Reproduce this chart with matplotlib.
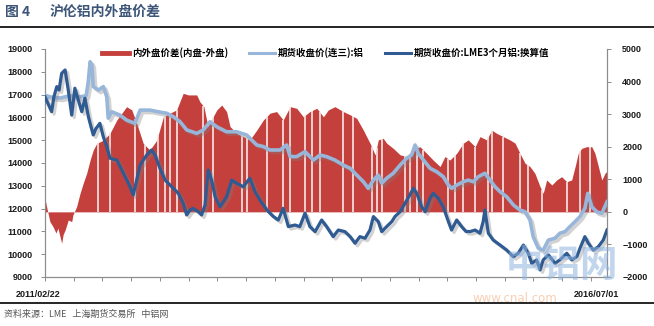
import matplotlib
matplotlib.use('Agg')
import matplotlib.pyplot as plt
import matplotlib.patheffects as pe
from matplotlib.lines import Line2D
import numpy as np
import pandas as pd

plt.rcParams['font.family'] = ['Noto Sans CJK SC', 'DejaVu Sans']

START = pd.Timestamp('2011-02-22')
END = pd.Timestamp('2016-07-01')

# spread (SHFE - LME), yuan/t, right axis; x = days after START
spread_days = [0, 7, 17, 28, 38, 45, 58, 63, 70, 81, 93, 97, 110, 122, 133, 145,
               157, 168, 180, 203, 226, 250, 284, 302, 319, 342, 365, 389, 412,
               435, 458, 481, 499, 528, 539, 553, 567, 598, 615, 632, 644, 667,
               690, 713, 737, 760, 783, 806, 829, 853, 876, 899, 922, 946, 969,
               986, 1009, 1038, 1062, 1085, 1108, 1131, 1149, 1160, 1177, 1189,
               1212, 1236, 1259, 1282, 1305, 1328, 1351, 1375, 1392, 1409, 1433,
               1456, 1473, 1497, 1514, 1537, 1555, 1572, 1595, 1618, 1636, 1653,
               1671, 1688, 1705, 1723, 1734, 1746, 1764, 1781, 1798, 1816, 1833,
               1845, 1856, 1868, 1885, 1903, 1914, 1926, 1938, 1949, 1956]
spread_vals = [400, 100, -300, -455, -650, -500, -965, -700, -555, -250, -300,
               -100, 160, 570, 880, 1185, 1590, 1900, 2100, 2200, 2410, 2820,
               3230, 3130, 2720, 2100, 1900, 2200, 2920, 3030, 3130, 3640, 3590,
               3590, 3380, 3230, 2620, 3130, 3280, 3080, 2620, 2410, 2310, 2210,
               2510, 2820, 3030, 3080, 2820, 3230, 3180, 2920, 3080, 3180, 2920,
               3130, 3230, 3080, 2980, 2870, 2510, 2110, 1750, 2210, 2260, 2110,
               1950, 1750, 1700, 1900, 2000, 1800, 1590, 1390, 1700, 1590, 1800,
               2110, 2210, 2000, 2310, 2210, 2510, 2410, 2310, 2210, 2110, 1800,
               1490, 1390, 1185, 775, 570, 980, 825, 980, 1080, 925, 980, 1390,
               1800, 1950, 2000, 2000, 1800, 1390, 980, 1185, 1250]
# days with no spread value (one market closed)
gap_days = [186, 226, 313, 348, 394, 418, 435, 458, 550, 585, 685, 702, 772,
            829, 853, 905, 928, 957, 1037, 1072, 1137, 1154, 1172, 1253, 1270,
            1294, 1317, 1404, 1427, 1456, 1497, 1543, 1555, 1595, 1653, 1682,
            1729, 1816, 1862, 1897]

# SHFE 3rd-month aluminium close
shfe_days = [0, 17, 52, 87, 122, 143, 150, 157, 163, 168, 186, 203, 215, 220,
             232, 261, 284, 313, 331, 365, 393, 424, 447, 470, 493, 505, 528,
             551, 574, 598, 632, 667, 702, 719, 737, 760, 783, 818, 841, 853,
             876, 905, 934, 957, 980, 1009, 1038, 1062, 1085, 1108, 1125, 1143,
             1160, 1172, 1189, 1212, 1236, 1259, 1276, 1288, 1299, 1317, 1340,
             1363, 1386, 1404, 1415, 1433, 1456, 1473, 1491, 1508, 1531, 1549,
             1566, 1584, 1607, 1630, 1653, 1671, 1688, 1699, 1717, 1734, 1752,
             1775, 1792, 1810, 1827, 1845, 1862, 1879, 1889, 1903, 1920, 1938,
             1956]
shfe_vals = [16980, 16900, 16850, 16950, 16900, 16950, 17500, 18440, 18300,
             17350, 17200, 17350, 16900, 15970, 16250, 16100, 15880, 15740,
             16320, 16320, 16250, 16180, 16030, 15810, 15450, 15400, 15300,
             15450, 15810, 15590, 15370, 15370, 15230, 15010, 14790, 14720,
             14570, 14570, 14790, 14280, 14280, 14500, 14130, 14350, 14280,
             14130, 13910, 13770, 13470, 13180, 12890, 13250, 13470, 13110,
             13330, 13550, 13910, 14210, 14350, 14790, 14420, 14130, 13770,
             13620, 13400, 13030, 12890, 13030, 13180, 13250, 13180, 13400,
             13550, 13250, 12960, 12740, 12520, 12160, 11940, 11860, 11500,
             10770, 10260, 10180, 10620, 10700, 10920, 10990, 11210, 11430,
             11650, 12010, 12670, 12080, 11860, 11790, 12300]

# LME 3-month aluminium, converted to yuan
lme_days = [0, 7, 23, 31, 41, 49, 58, 70, 81, 93, 104, 116, 128, 139, 151, 157,
            168, 177, 191, 203, 215, 226, 250, 273, 296, 307, 319, 331, 354,
            371, 383, 400, 418, 441, 464, 481, 493, 505, 515, 534, 545, 557,
            568, 580, 592, 609, 632, 650, 667, 690, 713, 731, 748, 772, 795,
            812, 829, 847, 870, 887, 905, 922, 940, 963, 980, 1003, 1021, 1044,
            1062, 1079, 1096, 1114, 1131, 1143, 1160, 1172, 1189, 1207, 1218,
            1236, 1253, 1270, 1282, 1294, 1311, 1323, 1340, 1351, 1369, 1386,
            1404, 1415, 1433, 1450, 1465, 1479, 1497, 1514, 1525, 1531, 1543,
            1560, 1584, 1607, 1630, 1647, 1665, 1682, 1694, 1711, 1723, 1734,
            1752, 1775, 1792, 1816, 1833, 1851, 1862, 1879, 1891, 1908, 1926,
            1943, 1956]
lme_vals = [16900, 16700, 16250, 16900, 17350, 17200, 17930, 18080, 17200,
            16100, 17280, 16760, 16250, 16840, 16030, 15740, 15230, 15500,
            15740, 15150, 14720, 14210, 14130, 13550, 12960, 12600, 13250,
            13910, 14350, 14570, 14350, 13770, 13250, 12960, 12670, 12230,
            11720, 11940, 12010, 11860, 11720, 12160, 13690, 13250, 12520,
            12080, 12520, 13250, 13110, 12960, 13330, 12740, 12380, 11940,
            11650, 11500, 12010, 11210, 11280, 11210, 11800, 11210, 10990,
            11500, 11210, 10770, 11060, 10990, 10770, 10480, 10770, 10700,
            11060, 11650, 11430, 10990, 11210, 11430, 11650, 11860, 12230,
            12600, 12890, 12670, 12080, 11860, 12450, 12670, 12450, 12080,
            11430, 11060, 11500, 11210, 11000, 10990, 11060, 10920, 11430,
            11940, 10920, 10620, 10400, 10180, 9890, 10040, 10400, 10040, 9600,
            9750, 9310, 9750, 9970, 9600, 9750, 10040, 9750, 9890, 10260,
            10770, 10480, 10180, 10330, 10620, 11060]

RED = '#c4403c'
LIGHT = '#98b6da'
DARK = '#2f5b92'


def to_dates(days):
    return START + pd.to_timedelta(days, unit='D')


fig = plt.figure(figsize=(6.54, 3.26), dpi=100)
ax_sp = fig.add_axes([45 / 654, 1 - 277 / 326, 562 / 654, 228 / 326])
ax_px = ax_sp.twinx()

# spread area on the back axis, prices on the twin in front
ax_sp.fill_between(to_dates(spread_days), 0, spread_vals, color=RED, lw=0,
                   zorder=2)
gap_tops = np.interp(gap_days, spread_days, spread_vals)
ax_sp.vlines(to_dates(gap_days), 0, gap_tops, color='#f6e8e8', lw=1.2,
             zorder=3)

shadow = [pe.SimpleLineShadow(offset=(1.8, -1.8), shadow_color='#808080',
                              alpha=0.35), pe.Normal()]
ax_px.plot(to_dates(shfe_days), shfe_vals, color=LIGHT, lw=2.6,
           solid_joinstyle='round', path_effects=shadow, zorder=3)
ax_px.plot(to_dates(lme_days), lme_vals, color=DARK, lw=2.3,
           solid_joinstyle='round', path_effects=shadow, zorder=4)

ax_sp.set_ylim(-2000, 5000)
ax_sp.set_yticks(np.arange(-2000, 5001, 1000))
ax_px.set_ylim(9000, 19000)
ax_px.set_yticks(np.arange(9000, 19001, 1000))
ax_sp.set_xlim(START, END)
ax_sp.set_xticks(pd.date_range(START, END, freq='100D'))
ax_sp.set_xticklabels([])

ax_sp.yaxis.tick_right()
ax_px.yaxis.tick_left()

axis_grey = '#8c8c8c'
tick_font = dict(family='Liberation Sans', weight='bold', size=6.5)
for ax in (ax_sp, ax_px):
    ax.spines['top'].set_visible(False)
    for side in ('left', 'right', 'bottom'):
        ax.spines[side].set_color(axis_grey)
        ax.spines[side].set_linewidth(0.8)
    ax.tick_params(direction='out', length=3, width=0.7, color=axis_grey,
                   pad=2)
    for lab in ax.get_yticklabels():
        lab.set_fontproperties(tick_font)
        lab.set_color('#1a1a1a')
ax_sp.tick_params(axis='y', pad=8)
ax_px.tick_params(axis='y', pad=6)

ax_sp.text(-0.013, -0.075, '2011/02/22', transform=ax_sp.transAxes,
           ha='center', va='center', fontproperties=tick_font, color='#1a1a1a')
ax_sp.text(0.982, -0.075, '2016/07/01', transform=ax_sp.transAxes,
           ha='center', va='center', fontproperties=tick_font, color='#1a1a1a')

handles = [Line2D([], [], color=RED, lw=3.5),
           Line2D([], [], color=LIGHT, lw=2.2),
           Line2D([], [], color=DARK, lw=2.2)]
labels = ['内外盘价差(内盘-外盘)', '期货收盘价(连三):铝',
          '期货收盘价:LME3个月铝:换算值']
ax_px.legend(handles, labels, loc='upper center', bbox_to_anchor=(0.5, 1.045),
             ncol=3, frameon=False, handlelength=2.8, handletextpad=0.3,
             columnspacing=2.2, prop=dict(family='Noto Sans CJK SC',
                                          weight='bold', size=6.8))

# header and footer
title_col = '#3d5678'
fig.text(5 / 654, 1 - 12 / 326, '图 4', ha='left', va='center', fontsize=10,
         fontweight='bold', color=title_col)
fig.text(50 / 654, 1 - 12 / 326, '沪伦铝内外盘价差', ha='left', va='center',
         fontsize=10, fontweight='bold', color=title_col)
fig.add_artist(Line2D([0, 1], [1 - 27 / 326] * 2, color='black', lw=1.2,
                      transform=fig.transFigure))
fig.add_artist(Line2D([0, 1], [1 - 303 / 326] * 2, color='black', lw=1.2,
                      transform=fig.transFigure))
fig.text(4 / 654, 1 - 314 / 326, '资料来源：LME   上海期货交易所   中铝网',
         ha='left', va='center', fontsize=6.5, color='#555555',
         fontstyle='italic')

# site watermark
fig.text(562 / 654, 1 - 266 / 326, '中铝网', ha='center', va='center',
         fontsize=27, fontweight='bold', color='#8fb3df', alpha=0.55,
         zorder=10)
fig.text(515 / 654, 1 - 299 / 326, 'www.cnal.com', ha='center', va='center',
         fontsize=8.5, family='DejaVu Sans', color='#f0a878', alpha=0.55,
         zorder=10)

fig.savefig('out.png', dpi=100)
